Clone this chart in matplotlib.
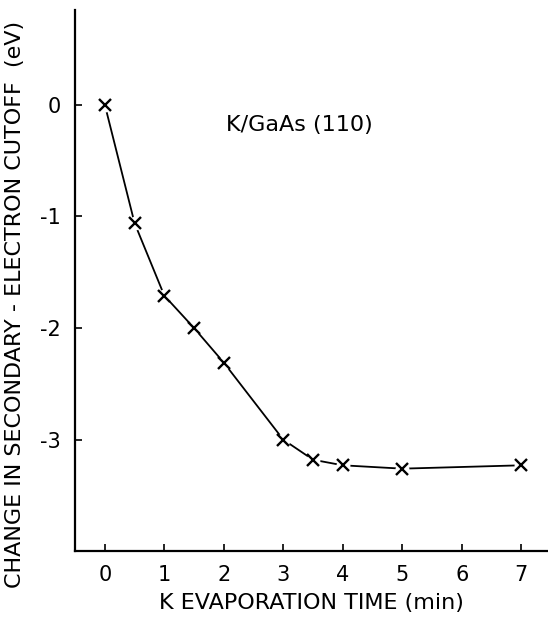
import matplotlib.pyplot as plt

plt.rcParams['font.family'] = ['DejaVu Sans']

# K evaporation time (min) and change in cutoff (eV)
time_min = [0, 0.5, 1, 1.5, 2, 3, 3.5, 4, 5, 7]
cutoff_shift = [0.0, -1.06, -1.71, -2.0, -2.31, -3.0, -3.18, -3.23, -3.26, -3.23]

x_ticks = [0, 1, 2, 3, 4, 5, 6, 7]
y_ticks = [0, -1, -2, -3]
y_tick_labels = ['0', '-1', '-2', '-3']

fig = plt.figure(figsize=(5.48, 6.18), dpi=100)
ax = fig.add_axes([0.137, 0.108, 0.863, 0.876])

# line with small gaps around each marker, as in the original drawing
ax.plot(time_min, cutoff_shift, color='black', linewidth=1.3, zorder=1)
ax.plot(time_min, cutoff_shift, linestyle='none', marker='o', markersize=10,
        markerfacecolor='white', markeredgecolor='none', zorder=2)
ax.plot(time_min, cutoff_shift, linestyle='none', color='black',
        marker='x', markersize=8, markeredgewidth=1.7, zorder=3)

ax.set_xlim(-0.5, 7.45)
ax.set_ylim(-4.0, 0.85)
ax.set_xticks(x_ticks)
ax.set_yticks(y_ticks)
ax.set_yticklabels(y_tick_labels)
ax.tick_params(direction='in', length=5, width=1.2, labelsize=15, pad=10)

for side in ['top', 'right']:
    ax.spines[side].set_visible(False)
for side in ['left', 'bottom']:
    ax.spines[side].set_linewidth(1.6)

ax.set_xlabel('K EVAPORATION TIME (min)', fontsize=16, labelpad=6)
ax.set_ylabel('CHANGE IN SECONDARY - ELECTRON CUTOFF  (eV)', fontsize=16)
ax.yaxis.set_label_coords(-0.105, 0.455)

ax.text(3.27, -0.18, 'K/GaAs (110)', fontsize=16, ha='center', va='center')

fig.savefig('out.png', dpi=100)
